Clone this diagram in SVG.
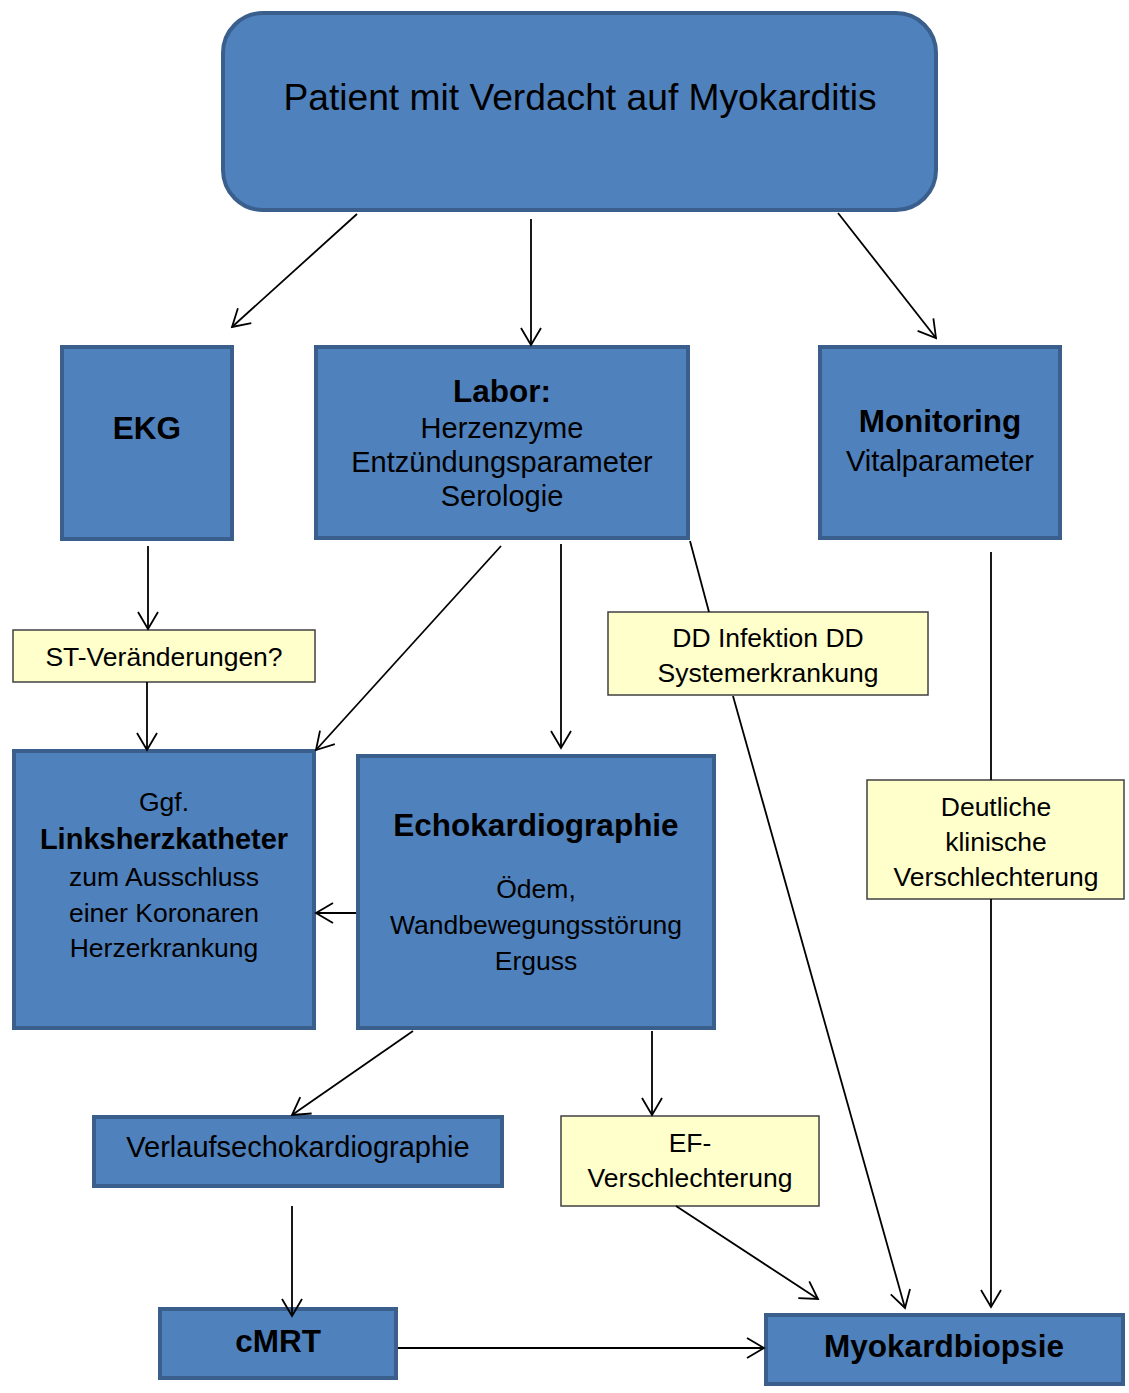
<svg xmlns="http://www.w3.org/2000/svg" width="1129" height="1393" viewBox="0 0 1129 1393">
<style>
.b{fill:#4f81bd;stroke:#3b5f8c;stroke-width:4}
.y{fill:#ffffcc;stroke:#404040;stroke-width:1.5}
text{font-family:"Liberation Sans",Arial,sans-serif;fill:#000;text-anchor:middle}
.h{font-weight:bold;font-size:31.5px}
.r{font-size:29px}
.s{font-size:26.5px}
.c{fill:none;stroke:#000;stroke-width:1.8}
</style>
<defs>
<marker id="a" markerUnits="userSpaceOnUse" viewBox="-20 -12 22 24" markerWidth="22" markerHeight="24" refX="0" refY="0" orient="auto">
<path d="M-17,-10 L0,0 L-17,10" fill="none" stroke="#000" stroke-width="1.8"/>
</marker>
<clipPath id="cdd"><rect x="608" y="612" width="320" height="84"/></clipPath>
<clipPath id="cdv"><rect x="867" y="780" width="257" height="120"/></clipPath>
</defs>
<g id="patient">
<rect class="b" x="223" y="13" width="713" height="197" rx="40"/>
<text x="580" y="110" style="font-size:37.2px">Patient mit Verdacht auf Myokarditis</text>
</g>
<g id="ekg">
<rect class="b" x="62" y="347" width="170" height="192"/>
<text class="h" x="147" y="439">EKG</text>
</g>
<g id="labor">
<rect class="b" x="316" y="347" width="372" height="191"/>
<text class="h" x="502" y="402">Labor:</text>
<text class="r" x="502" y="438">Herzenzyme</text>
<text class="r" x="502" y="472">Entzündungsparameter</text>
<text class="r" x="502" y="506">Serologie</text>
</g>
<g id="monitoring">
<rect class="b" x="820" y="347" width="240" height="191"/>
<text class="h" x="940" y="432">Monitoring</text>
<text class="r" x="940" y="471">Vitalparameter</text>
</g>
<g id="st">
<rect class="y" x="13" y="630" width="302" height="52"/>
<text class="s" x="164" y="666">ST-Veränderungen?</text>
</g>
<g id="dd">
<rect class="y" x="608" y="612" width="320" height="83"/>
<g clip-path="url(#cdd)">
<text class="s" x="768" y="647">DD Infektion DD</text>
<text class="s" x="768" y="682">Systemerkrankung</text>
</g>
</g>
<g id="lhk">
<rect class="b" x="14" y="751" width="300" height="277"/>
<text class="s" x="164" y="811">Ggf.</text>
<text x="164" y="849" style="font-weight:bold;font-size:29px">Linksherzkatheter</text>
<text class="s" x="164" y="886">zum Ausschluss</text>
<text class="s" x="164" y="922">einer Koronaren</text>
<text class="s" x="164" y="957">Herzerkrankung</text>
</g>
<g id="echo">
<rect class="b" x="358" y="756" width="356" height="272"/>
<text class="h" x="536" y="836">Echokardiographie</text>
<text class="s" x="536" y="898">Ödem,</text>
<text class="s" x="536" y="934">Wandbewegungsstörung</text>
<text class="s" x="536" y="970">Erguss</text>
</g>
<g id="deutlich">
<rect class="y" x="867" y="780" width="257" height="119"/>
<g clip-path="url(#cdv)">
<text class="s" x="996" y="816">Deutliche</text>
<text class="s" x="996" y="851">klinische</text>
<text class="s" x="996" y="886">Verschlechterung</text>
</g>
</g>
<g id="verlauf">
<rect class="b" x="94" y="1117" width="408" height="69"/>
<text class="r" x="298" y="1157">Verlaufsechokardiographie</text>
</g>
<g id="ef">
<rect class="y" x="561" y="1116" width="258" height="90"/>
<text class="s" x="690" y="1152">EF-</text>
<text class="s" x="690" y="1187">Verschlechterung</text>
</g>
<g id="cmrt">
<rect class="b" x="160" y="1309" width="236" height="69"/>
<text class="h" x="278" y="1352">cMRT</text>
</g>
<g id="biopsie">
<rect class="b" x="766" y="1315" width="357" height="69"/>
<text class="h" x="944" y="1357">Myokardbiopsie</text>
</g>
<g id="connectors">
<line class="c" x1="357" y1="214" x2="232" y2="327" marker-end="url(#a)"/>
<line class="c" x1="531" y1="219" x2="531" y2="345" marker-end="url(#a)"/>
<line class="c" x1="838" y1="213" x2="936" y2="338" marker-end="url(#a)"/>
<line class="c" x1="148" y1="546" x2="148" y2="629" marker-end="url(#a)"/>
<line class="c" x1="147" y1="682" x2="147" y2="750" marker-end="url(#a)"/>
<line class="c" x1="501" y1="546" x2="316" y2="750" marker-end="url(#a)"/>
<line class="c" x1="561" y1="544" x2="561" y2="748" marker-end="url(#a)"/>
<line class="c" x1="690" y1="541" x2="709" y2="612"/>
<line class="c" x1="733" y1="696" x2="905" y2="1308" marker-end="url(#a)"/>
<line class="c" x1="991" y1="552" x2="991" y2="780"/>
<line class="c" x1="991" y1="899" x2="991" y2="1307" marker-end="url(#a)"/>
<line class="c" x1="356" y1="913" x2="316" y2="913" marker-end="url(#a)"/>
<line class="c" x1="413" y1="1031" x2="292" y2="1115" marker-end="url(#a)"/>
<line class="c" x1="652" y1="1031" x2="652" y2="1115" marker-end="url(#a)"/>
<line class="c" x1="676" y1="1206" x2="818" y2="1299" marker-end="url(#a)"/>
<line class="c" x1="292" y1="1206" x2="292" y2="1316" marker-end="url(#a)"/>
<line class="c" x1="398" y1="1348" x2="764" y2="1348" marker-end="url(#a)"/>
</g>
</svg>
